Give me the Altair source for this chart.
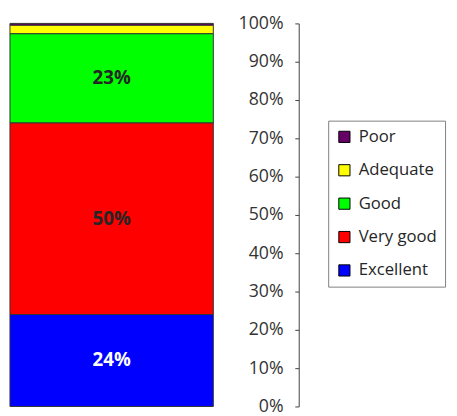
import altair as alt
import pandas as pd

ratings = ["Poor", "Adequate", "Good", "Very good", "Excellent"]
shares = [0.005, 0.022, 0.233, 0.50, 0.24]
stack_order = [5, 4, 3, 2, 1]
colors = ["#660066", "#FFFF00", "#00FF00", "#FF0000", "#0000FF"]
y_ticks = [0, 0.1, 0.2, 0.3, 0.4, 0.5, 0.6, 0.7, 0.8, 0.9, 1.0]

df = pd.DataFrame({
    "cat": ["All"] * len(ratings),
    "rating": ratings,
    "share": shares,
    "ord": stack_order,
})

FONT = "Open Sans"
PLOT_W = 294

x_enc = alt.X("cat:N", axis=None,
              scale=alt.Scale(paddingInner=0, paddingOuter=0.21, align=0))

y_axis = alt.Axis(values=y_ticks, format=".0%", orient="left", offset=-PLOT_W,
                  grid=False, tickSize=4, tickColor="#404040",
                  domainColor="#404040", labelColor="#333333",
                  labelFont=FONT, labelFontSize=18, labelPadding=12,
                  labelOverlap=False, labelFlush=False, title=None)

bars = alt.Chart(df).mark_bar(stroke="#333333", strokeWidth=1).encode(
    x=x_enc,
    y=alt.Y("share:Q", stack="zero",
            scale=alt.Scale(domain=[0, 1], nice=False),
            axis=y_axis),
    color=alt.Color("rating:N",
                    scale=alt.Scale(domain=ratings, range=colors),
                    legend=alt.Legend(title=None, orient="none", legendX=324, legendY=99,
                                      symbolType="square", symbolSize=130,
                                      symbolStrokeColor="#000000", symbolStrokeWidth=1,
                                      labelFont=FONT, labelFontSize=17, labelColor="#262626",
                                      rowPadding=16, strokeColor="#7f7f7f", padding=8,
                                      symbolOpacity=1, labelLimit=200, labelOffset=6)),
    order=alt.Order("ord:Q"),
)

labels = alt.Chart(df).transform_stack(
    stack="share", as_=["y0", "y1"], groupby=["cat"], sort=[alt.SortField("ord")]
).transform_calculate(
    mid="(datum.y0 + datum.y1) / 2"
).transform_filter(
    "datum.share >= 0.05"
).mark_text(font=FONT, fontSize=19, fontWeight="bold", baseline="middle").encode(
    x=x_enc,
    y=alt.Y("mid:Q", scale=alt.Scale(domain=[0, 1], nice=False), axis=y_axis),
    text=alt.Text("share:Q", format=".0%"),
    color=alt.condition("datum.rating == 'Excellent'", alt.value("#FFFFFF"), alt.value("#262626")),
)

chart = alt.layer(bars, labels).properties(
    width=PLOT_W, height=390,
    padding={"left": 2, "top": 12, "right": 153, "bottom": 6},
    autosize=alt.AutoSizeParams(type="none"),
    background="#FFFFFF",
).configure_view(stroke=None)

chart.save("out.html", embed_options={"renderer": "svg", "actions": False})
